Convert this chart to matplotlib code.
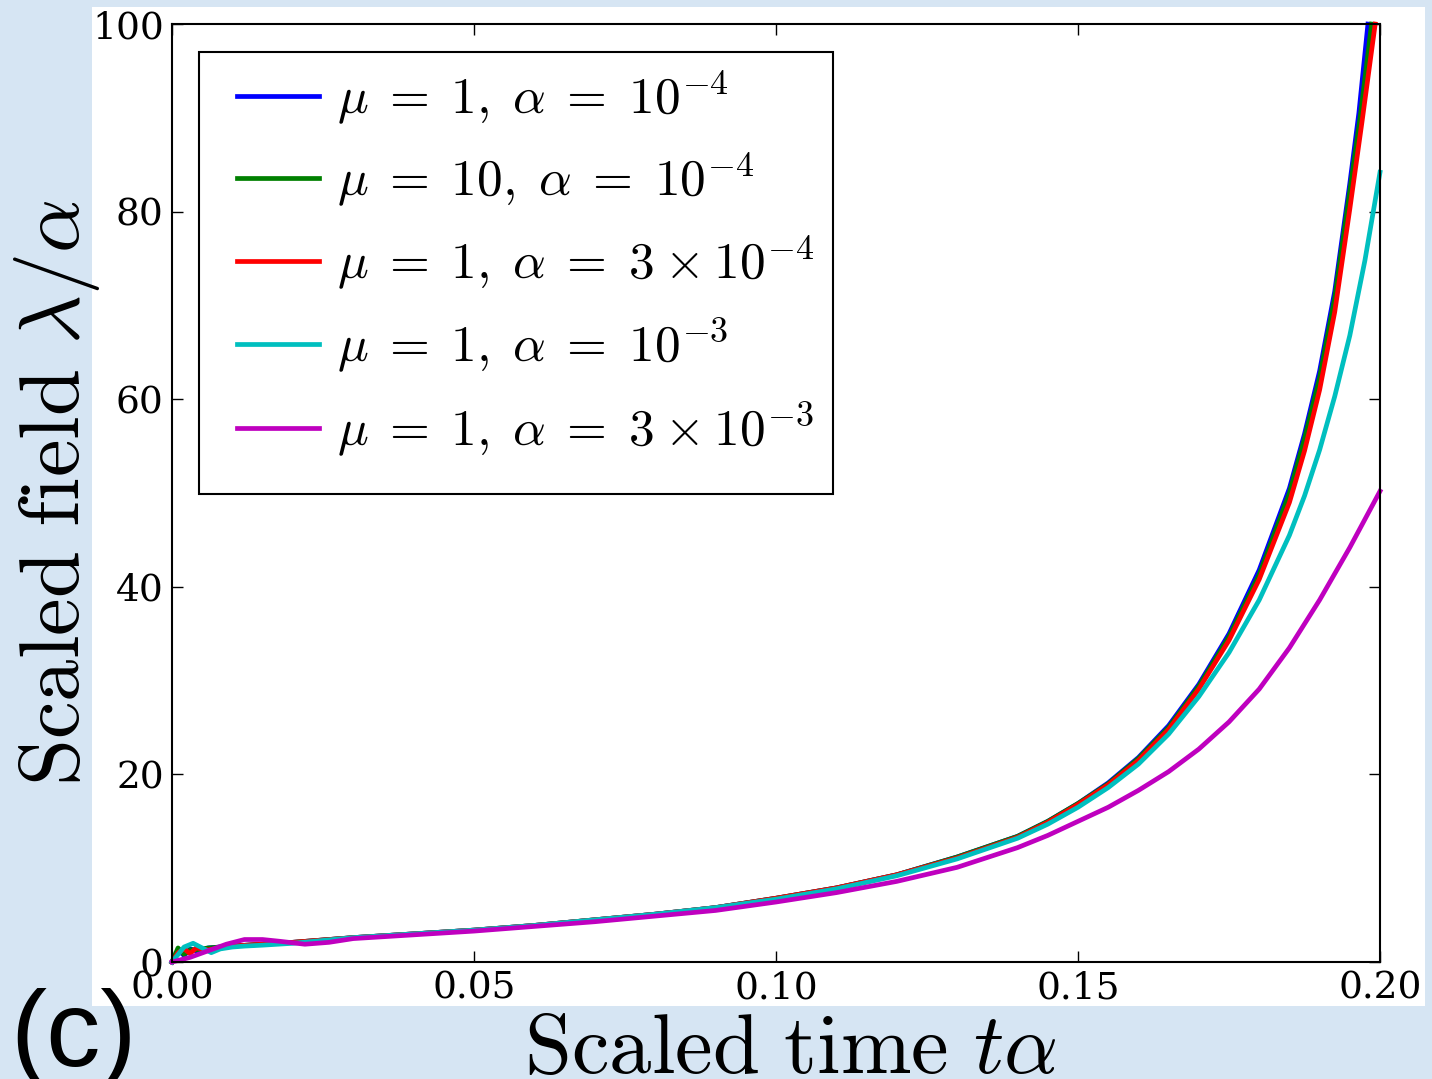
import matplotlib
matplotlib.use('Agg')
import matplotlib.pyplot as plt
from matplotlib.patches import Rectangle

plt.rcParams['font.family'] = 'DejaVu Serif'
plt.rcParams['mathtext.fontset'] = 'cm'

# scaled time / scaled field
t_mu1_a1e4 = [0, 0.001, 0.002, 0.003, 0.004, 0.006, 0.01, 0.015, 0.02, 0.03, 0.04, 0.05, 0.06,
              0.07, 0.08, 0.09, 0.10, 0.11, 0.12, 0.13, 0.14, 0.145, 0.15, 0.155, 0.16, 0.165,
              0.17, 0.175, 0.18, 0.185, 0.1875, 0.19, 0.1925, 0.195, 0.1965, 0.198]
f_mu1_a1e4 = [0, 1.3, 0.7, 1.4, 1.2, 1.5, 1.7, 1.9, 2.1, 2.6, 3.0, 3.4, 3.9,
              4.5, 5.1, 5.8, 6.8, 7.9, 9.3, 11.2, 13.4, 15.0, 16.9, 19.1, 21.8, 25.2,
              29.6, 35.0, 41.8, 50.5, 56.3, 63.0, 71.5, 83.0, 90.5, 100.0]

t_mu10_a1e4 = [0, 0.001, 0.002, 0.003, 0.004, 0.006, 0.01, 0.015, 0.02, 0.03, 0.04, 0.05, 0.06,
               0.07, 0.08, 0.09, 0.10, 0.11, 0.12, 0.13, 0.14, 0.145, 0.15, 0.155, 0.16, 0.165,
               0.17, 0.175, 0.18, 0.185, 0.1875, 0.19, 0.1925, 0.195, 0.1968, 0.1986]
f_mu10_a1e4 = [0, 1.5, 0.8, 1.3, 1.3, 1.5, 1.7, 1.9, 2.1, 2.6, 3.0, 3.4, 3.9,
               4.5, 5.1, 5.8, 6.8, 7.9, 9.3, 11.2, 13.4, 15.0, 16.9, 19.0, 21.7, 25.0,
               29.4, 34.7, 41.3, 50.0, 55.8, 62.3, 70.8, 82.2, 90.5, 100.0]

t_mu1_a3e4 = [0, 0.001, 0.002, 0.003, 0.004, 0.006, 0.01, 0.015, 0.02, 0.03, 0.04, 0.05, 0.06,
              0.07, 0.08, 0.09, 0.10, 0.11, 0.12, 0.13, 0.14, 0.145, 0.15, 0.155, 0.16, 0.165,
              0.17, 0.175, 0.18, 0.185, 0.1875, 0.19, 0.1925, 0.195, 0.197, 0.1992]
f_mu1_a3e4 = [0, 1.0, 1.4, 0.9, 1.5, 1.3, 1.7, 1.9, 2.1, 2.6, 3.0, 3.4, 3.9,
              4.5, 5.1, 5.8, 6.8, 7.9, 9.3, 11.1, 13.3, 14.9, 16.8, 18.9, 21.5, 24.8,
              29.1, 34.3, 40.8, 49.0, 54.5, 61.0, 69.3, 80.3, 89.5, 100.0]

t_mu1_a1e3 = [0, 0.001, 0.002, 0.0035, 0.005, 0.0065, 0.008, 0.01, 0.012, 0.015, 0.02, 0.03,
              0.04, 0.05, 0.06, 0.07, 0.08, 0.09, 0.10, 0.11, 0.12, 0.13, 0.14, 0.145, 0.15,
              0.155, 0.16, 0.165, 0.17, 0.175, 0.18, 0.185, 0.1875, 0.19, 0.1925, 0.195,
              0.1975, 0.2]
f_mu1_a1e3 = [0, 0.8, 1.6, 2.0, 1.5, 1.0, 1.4, 1.6, 1.7, 1.8, 2.0, 2.6,
              3.0, 3.4, 3.9, 4.5, 5.1, 5.8, 6.7, 7.8, 9.2, 11.0, 13.2, 14.7, 16.5,
              18.6, 21.1, 24.3, 28.3, 33.0, 38.6, 45.5, 49.7, 54.6, 60.3, 66.8,
              74.8, 84.2]

t_mu1_a3e3 = [0, 0.003, 0.006, 0.009, 0.012, 0.015, 0.018, 0.022, 0.026, 0.03, 0.04, 0.05,
              0.06, 0.07, 0.08, 0.09, 0.10, 0.11, 0.12, 0.13, 0.14, 0.145, 0.15, 0.155, 0.16,
              0.165, 0.17, 0.175, 0.18, 0.185, 0.19, 0.195, 0.2]
f_mu1_a3e3 = [0, 0.5, 1.2, 1.9, 2.4, 2.4, 2.2, 1.9, 2.1, 2.5, 2.9, 3.3,
              3.8, 4.3, 4.9, 5.5, 6.4, 7.4, 8.6, 10.1, 12.2, 13.5, 15.0, 16.5, 18.3,
              20.3, 22.7, 25.6, 29.1, 33.5, 38.6, 44.2, 50.2]

labels = [r'$\mu\;=\;1,\;\alpha\;=\;10^{-4}$',
          r'$\mu\;=\;10,\;\alpha\;=\;10^{-4}$',
          r'$\mu\;=\;1,\;\alpha\;=\;3\:\times\:10^{-4}$',
          r'$\mu\;=\;1,\;\alpha\;=\;10^{-3}$',
          r'$\mu\;=\;1,\;\alpha\;=\;3\:\times\:10^{-3}$']
colors = ['b', 'g', 'r', 'c', 'm']

series = [(t_mu1_a1e4, f_mu1_a1e4), (t_mu10_a1e4, f_mu10_a1e4), (t_mu1_a3e4, f_mu1_a3e4),
          (t_mu1_a1e3, f_mu1_a1e3), (t_mu1_a3e3, f_mu1_a3e3)]

fig = plt.figure(figsize=(14.32, 10.79), dpi=100, facecolor='#d6e5f3')
# white figure area pasted on the slide background
fig.patches.append(Rectangle((0.0642, 0.0677), 0.9309, 0.9258, transform=fig.transFigure,
                             facecolor='white', edgecolor='none', zorder=-5))

ax = fig.add_axes([0.1201, 0.1084, 0.8436, 0.8693])
for (t, f), lab, c in zip(series, labels, colors):
    ax.plot(t, f, color=c, lw=3.4, label=lab, clip_on=False, solid_joinstyle='round')

ax.set_xlim(0, 0.2)
ax.set_ylim(0, 100)
ax.set_xticks([0, 0.05, 0.10, 0.15, 0.20])
ax.set_xticklabels(['0.00', '0.05', '0.10', '0.15', '0.20'])
ax.set_yticks([0, 20, 40, 60, 80, 100])
ax.tick_params(direction='in', length=8, width=1, labelsize=27, pad=6,
               top=True, right=True)
for s in ax.spines.values():
    s.set_linewidth(1.5)

ax.set_xlabel(r'$\mathrm{Scaled\ time}\ t\alpha$', fontsize=61)
ax.set_ylabel(r'$\mathrm{Scaled\ field}\ \lambda/\alpha$', fontsize=61)
ax.xaxis.set_label_coords(0.512, -0.05)
ax.yaxis.set_label_coords(-0.058, 0.5)

# legend box drawn separately so the inner padding matches the original
ax.add_patch(Rectangle((0.0224, 0.4989), 0.5248, 0.4711, transform=ax.transAxes,
                       facecolor='white', edgecolor='black', lw=1.5, zorder=4))
leg = ax.legend(loc='upper left', fontsize=37, handlelength=1.6, handletextpad=0.35,
                labelspacing=0.47, borderpad=0, borderaxespad=0, frameon=False,
                bbox_to_anchor=(0.0538, 0.953))
leg.set_zorder(5)

fig.text(0.007, 0.012, '(c)', fontsize=78, family='Liberation Sans', va='baseline')

plt.savefig('out.png', dpi=100, facecolor=fig.get_facecolor())
